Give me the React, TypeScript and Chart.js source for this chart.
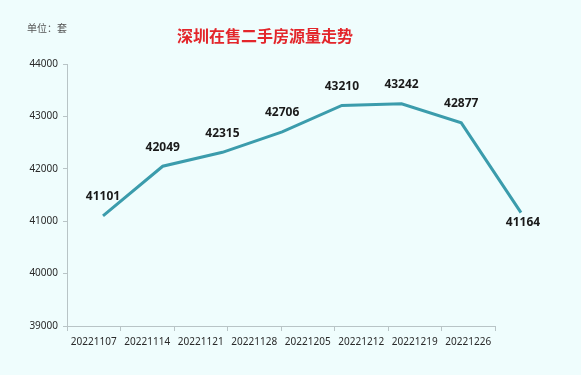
import React, { useEffect, useRef } from "react";
import { Chart, registerables } from "chart.js";

Chart.register(...registerables);

const categories = ["20221107", "20221114", "20221121", "20221128", "20221205", "20221212", "20221219", "20221226"];
const listings = [41101, 42049, 42315, 42706, 43210, 43242, 42877, 41164];
const yTicks = [39000, 40000, 41000, 42000, 43000, 44000];
const titleText = "深圳在售二手房源量走势";
const unitText = "单位：套";

const W = 581;
const H = 375;

export default function App() {
  const ref = useRef<HTMLCanvasElement | null>(null);

  useEffect(() => {
    if (!ref.current) return;
    const textPlugin = {
      id: "texts",
      afterDraw(chart: any) {
        const ctx = chart.ctx;
        ctx.save();
        ctx.textAlign = "center";
        ctx.textBaseline = "middle";
        ctx.fillStyle = "#e3262b";
        ctx.font = "bold 16px 'Noto Sans CJK SC', sans-serif";
        ctx.fillText(titleText, 265, 36);
        ctx.textAlign = "left";
        ctx.fillStyle = "#555555";
        ctx.font = "10px 'Noto Sans CJK SC', sans-serif";
        ctx.fillText(unitText, 27, 28);
        ctx.restore();
      },
      afterDatasetsDraw(chart: any) {
        const ctx = chart.ctx;
        const meta = chart.getDatasetMeta(0);
        ctx.save();
        ctx.textAlign = "center";
        ctx.textBaseline = "middle";
        ctx.fillStyle = "#1a1a1a";
        ctx.font = "bold 12px 'Noto Sans', sans-serif";
        meta.data.forEach((pt: any, i: number) => {
          const below = i === meta.data.length - 1;
          ctx.fillText(String(listings[i]), pt.x + (below ? 2 : 0), pt.y + (below ? 10 : -19));
        });
        ctx.restore();
      },
    };

    const chart = new Chart(ref.current, {
      type: "line",
      data: {
        labels: categories,
        datasets: [
          {
            data: listings.map((v, i) => ({ x: i, y: v })),
            xAxisID: "x2",
            borderColor: "#3b9cac",
            borderWidth: 3,
            pointRadius: 0,
            fill: false,
            tension: 0,
            clip: false as any,
          },
        ],
      },
      options: {
        responsive: false,
        animation: false,
        layout: { padding: { left: 0, right: 86, top: 64, bottom: 0 } },
        plugins: { legend: { display: false }, tooltip: { enabled: false }, title: { display: false } },
        scales: {
          x: {
            type: "category",
            offset: true,
            grid: { offset: true, drawOnChartArea: false, drawTicks: true, tickLength: 5, color: "#b8c4c6" },
            border: { display: true, color: "#b8c4c6", width: 1 },
            ticks: { color: "#2a2a2a", font: { size: 10, family: "'Noto Sans', sans-serif" }, padding: 5, maxRotation: 0, autoSkip: false },
            afterFit(scale: any) {
              scale.height = 49;
            },
          },
          x2: {
            type: "linear",
            display: false,
            min: -0.603,
            max: 6.565,
          },
          y: {
            min: yTicks[0],
            max: yTicks[yTicks.length - 1],
            afterBuildTicks(scale: any) {
              scale.ticks = yTicks.map((v) => ({ value: v }));
            },
            grid: { drawOnChartArea: false, drawTicks: true, tickLength: 4, color: "#b8c4c6" },
            border: { display: true, color: "#b8c4c6", width: 1 },
            ticks: {
              color: "#2a2a2a",
              font: { size: 10, family: "'Noto Sans', sans-serif" },
              padding: 5,
              callback: (v: any) => String(v),
            },
            afterFit(scale: any) {
              scale.width = 67;
            },
          },
        },
      } as any,
      plugins: [textPlugin],
    });
    return () => chart.destroy();
  }, []);

  return (
    <div style={{ position: "fixed", left: 0, top: 0, width: W, height: H, background: "#effdfd" }}>
      <canvas ref={ref} width={W} height={H} style={{ display: "block" }} />
    </div>
  );
}
